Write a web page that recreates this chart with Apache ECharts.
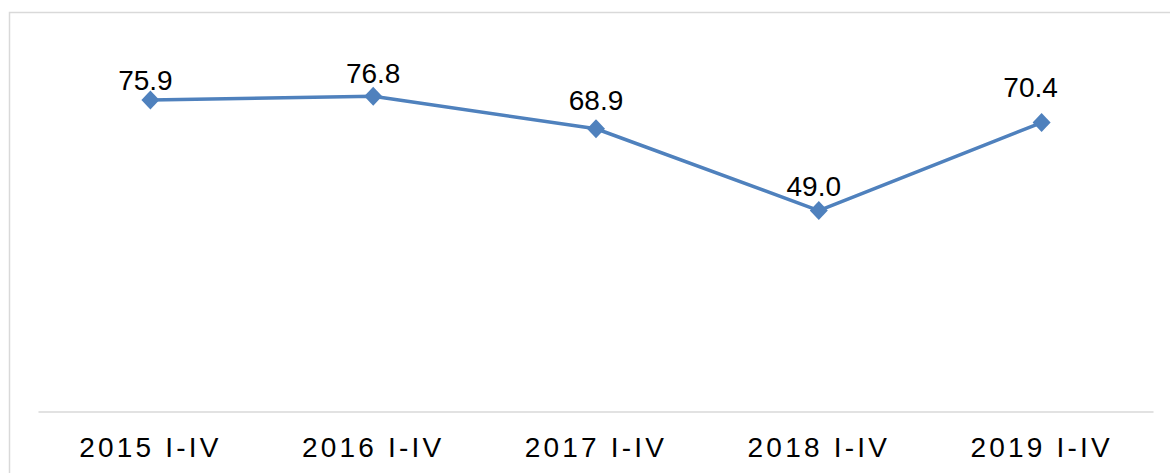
<!DOCTYPE html>
<html>
<head>
<meta charset="utf-8">
<script src="https://cdn.jsdelivr.net/npm/echarts@6/dist/echarts.min.js"></script>
<style>
  html, body { margin: 0; padding: 0; background: #ffffff; }
  #chart { width: 1170px; height: 473px; }
  #chart text[style*="Arial"] { letter-spacing: 3.2px; }
</style>
</head>
<body>
<div id="chart"></div>
<script>
const categories = ['2015 I-IV', '2016 I-IV', '2017 I-IV', '2018 I-IV', '2019 I-IV'];
const values = [75.9, 76.8, 68.9, 49.0, 70.4];
const labelOffsets = [[-5, 4], [0, 1], [0, -5], [-5, -1], [-11, -12]];

const chart = echarts.init(document.getElementById('chart'), null, { renderer: 'svg' });
chart.setOption({
  animation: false,
  backgroundColor: '#ffffff',
  graphic: [{
    type: 'rect',
    shape: { x: 9.5, y: 12.5, width: 1300, height: 600 },
    style: { fill: 'none', stroke: '#d9d9d9', lineWidth: 1.5 },
    silent: true,
    z: -10
  }],
  grid: { left: 39, right: 17, top: 42, bottom: 61, containLabel: false },
  xAxis: {
    type: 'category',
    data: categories,
    boundaryGap: true,
    axisLine: { show: true, lineStyle: { color: '#d9d9d9', width: 1.5 } },
    axisTick: { show: false },
    axisLabel: {
      color: '#000000',
      fontFamily: 'Arial',
      fontSize: 28,
      margin: 21
    },
    splitLine: { show: false }
  },
  yAxis: {
    type: 'value',
    min: 0,
    max: 90,
    interval: 10,
    show: false,
    splitLine: { show: false }
  },
  series: [{
    type: 'line',
    data: values.map((v, i) => ({
      value: v,
      label: { offset: labelOffsets[i] }
    })),
    symbol: 'diamond',
    symbolSize: [18, 19],
    lineStyle: { color: '#4f81bd', width: 3.5 },
    itemStyle: { color: '#4f81bd' },
    label: {
      show: true,
      position: 'top',
      distance: 0,
      color: '#000000',
      fontFamily: 'Liberation Sans',
      fontSize: 28,
      formatter: p => p.value.toFixed(1)
    }
  }]
});
</script>
</body>
</html>
